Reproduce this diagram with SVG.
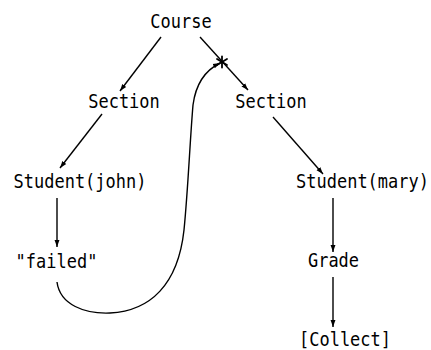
<svg xmlns="http://www.w3.org/2000/svg" width="431" height="350" viewBox="0 0 431 350">
  <style>
    /* labels: narrow mono face, stretched a little vertically */
    .lbl { font-family: "DejaVu Sans Mono", "Liberation Mono", monospace; font-size: 17px; fill: #000; text-anchor: middle; }
    .edge { fill: none; stroke: #000; stroke-width: 1.4; }
  </style>
  <defs>
    <marker id="arrow" viewBox="0 0 10 10" refX="10" refY="5" markerWidth="7" markerHeight="7" orient="auto" markerUnits="userSpaceOnUse">
      <path d="M0,1.5 L10,5 L0,8.5 Z" fill="#000"/>
    </marker>
  </defs>
  <rect width="431" height="350" fill="#fff"/>

  <g id="connectors">
    <line class="edge" x1="161" y1="37" x2="120" y2="91" marker-end="url(#arrow)"/>
    <line class="edge" x1="200" y1="37" x2="248" y2="90" marker-end="url(#arrow)"/>
    <line class="edge" x1="102" y1="114" x2="60" y2="168" marker-end="url(#arrow)"/>
    <line class="edge" x1="273" y1="117" x2="323" y2="174" marker-end="url(#arrow)"/>
    <line class="edge" x1="57" y1="198" x2="57" y2="247" marker-end="url(#arrow)"/>
    <line class="edge" x1="333" y1="198" x2="333" y2="252" marker-end="url(#arrow)"/>
    <line class="edge" x1="333" y1="277" x2="333" y2="327" marker-end="url(#arrow)"/>
    <path class="edge" d="M57,282 C60,305 85,314 110,313 C150,311 178,285 184,230 C188,190 190,140 193,105 C196,82 206,70 220,63" marker-end="url(#arrow)"/>
    <!-- junction mark where the back reference meets the edge -->
    <g id="junction" stroke="#000" stroke-width="1.8" stroke-linecap="round">
      <line x1="222" y1="56.5" x2="222" y2="67.5"/>
      <line x1="217" y1="59" x2="227" y2="65"/>
      <line x1="217" y1="65" x2="227" y2="59"/>
    </g>
  </g>

  <g id="course" transform="translate(181,28) scale(1,1.12)"><text class="lbl">Course</text></g>
  <g id="section-left" transform="translate(124,108) scale(1,1.12)"><text class="lbl">Section</text></g>
  <g id="section-right" transform="translate(271,108) scale(1,1.12)"><text class="lbl">Section</text></g>
  <g id="student-john" transform="translate(80,188) scale(1,1.12)"><text class="lbl">Student(john)</text></g>
  <g id="student-mary" transform="translate(362.5,188) scale(1,1.12)"><text class="lbl">Student(mary)</text></g>
  <g id="failed" transform="translate(56.5,268) scale(1,1.12)"><text class="lbl">"failed"</text></g>
  <g id="grade" transform="translate(333.5,267) scale(1,1.12)"><text class="lbl">Grade</text></g>
  <g id="collect" transform="translate(345,346) scale(1,1.12)"><text class="lbl">[Collect]</text></g>
</svg>
